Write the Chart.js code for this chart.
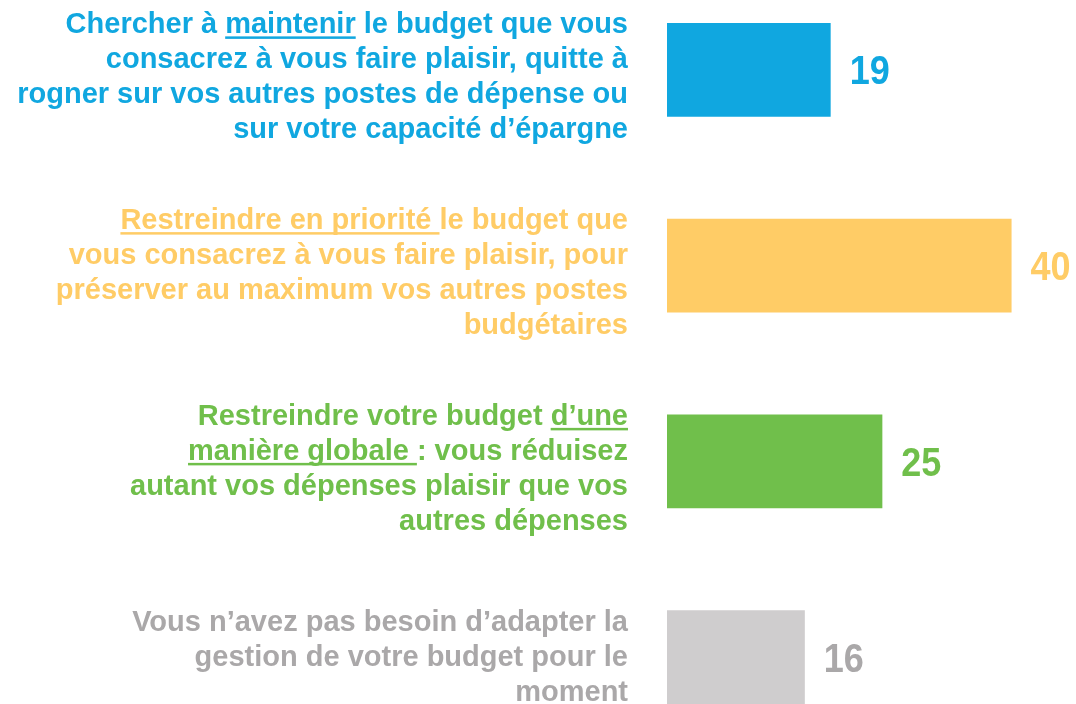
<!DOCTYPE html>
<html>
<head>
<meta charset="utf-8">
<script src="https://cdn.jsdelivr.net/npm/chart.js@4/dist/chart.umd.min.js"></script>
<style>
  html, body { margin: 0; padding: 0; background: #fff; overflow: hidden; }
  #wrap { position: relative; width: 1076px; height: 704px; overflow: hidden; }
  #chart { position: absolute; left: 0; top: -28px; }
</style>
</head>
<body>
<div id="wrap"><canvas id="chart" width="1076" height="783"></canvas></div>
<script>
// answer labels, one string per line; {...} marks the underlined part
var labelLines = [
  ['Chercher à {maintenir} le budget que vous',
   'consacrez à vous faire plaisir, quitte à',
   'rogner sur vos autres postes de dépense ou',
   'sur votre capacité d’épargne'],
  ['{Restreindre en priorité }le budget que',
   'vous consacrez à vous faire plaisir, pour',
   'préserver au maximum vos autres postes',
   'budgétaires'],
  ['Restreindre votre budget {d’une}',
   '{manière globale }: vous réduisez',
   'autant vos dépenses plaisir que vos',
   'autres dépenses'],
  ['Vous n’avez pas besoin d’adapter la',
   'gestion de votre budget pour le',
   'moment']
];
var values = [19, 40, 25, 16];
var barColors = ['#10A7E0', '#FFCC66', '#70BF4B', '#CFCDCE'];
var textColors = ['#10A7E0', '#FFCC66', '#70BF4B', '#AAA8A9'];

var FONT = "'Liberation Sans', Arial, sans-serif";

// split a line into [{text, under}] runs
function runs(line) {
  var out = [], re = /\{([^}]*)\}|([^{]+)/g, m;
  while ((m = re.exec(line))) {
    if (m[1] !== undefined) out.push({ text: m[1], under: true });
    else out.push({ text: m[2], under: false });
  }
  return out;
}

var textPlugin = {
  id: 'sideText',
  afterDatasetsDraw: function (chart) {
    var ctx = chart.ctx,
        yScale = chart.scales.y,
        meta = chart.getDatasetMeta(0);
    ctx.save();
    ctx.textBaseline = 'alphabetic';
    ctx.textAlign = 'left';

    labelLines.forEach(function (lines, i) {
      var yc = yScale.getPixelForValue(i),
          n = lines.length,
          // the source boxes sit a bit low; short boxes less so
          shift = n > 3 ? 16 : 9;
      ctx.font = 'bold 29px ' + FONT;
      ctx.fillStyle = textColors[i];
      lines.forEach(function (line, k) {
        var y = yc + shift + (k - (n - 1) / 2) * 35,
            parts = runs(line),
            total = 0;
        parts.forEach(function (p) { p.w = ctx.measureText(p.text).width; total += p.w; });
        var x = 628 - total;
        parts.forEach(function (p) {
          ctx.fillText(p.text, x, y);
          if (p.under) {
            ctx.fillRect(x, y + 3, p.w, 2.5);
          }
          x += p.w;
        });
      });

      // value after the bar, slightly condensed like the source
      var bar = meta.data[i];
      ctx.save();
      ctx.translate(bar.x + 19, yc + 14.5);
      ctx.scale(0.9, 1);
      ctx.font = 'bold 40px ' + FONT;
      ctx.fillText(String(values[i]), 0, 0);
      ctx.restore();
    });
    ctx.restore();
  }
};

new Chart(document.getElementById('chart'), {
  type: 'bar',
  data: {
    labels: labelLines.map(function (l) { return l.join(' ').replace(/[{}]/g, ''); }),
    datasets: [{
      data: values,
      backgroundColor: barColors,
      borderWidth: 0,
      barPercentage: 0.48,
      categoryPercentage: 1
    }]
  },
  options: {
    indexAxis: 'y',
    responsive: false,
    animation: false,
    layout: { padding: { left: 667, right: 5, top: 0, bottom: 0 } },
    plugins: { legend: { display: false }, tooltip: { enabled: false } },
    scales: {
      x: { display: false, min: 0, max: 46.9, grid: { display: false } },
      y: { display: false, grid: { display: false } }
    }
  },
  plugins: [textPlugin]
});
</script>
</body>
</html>
